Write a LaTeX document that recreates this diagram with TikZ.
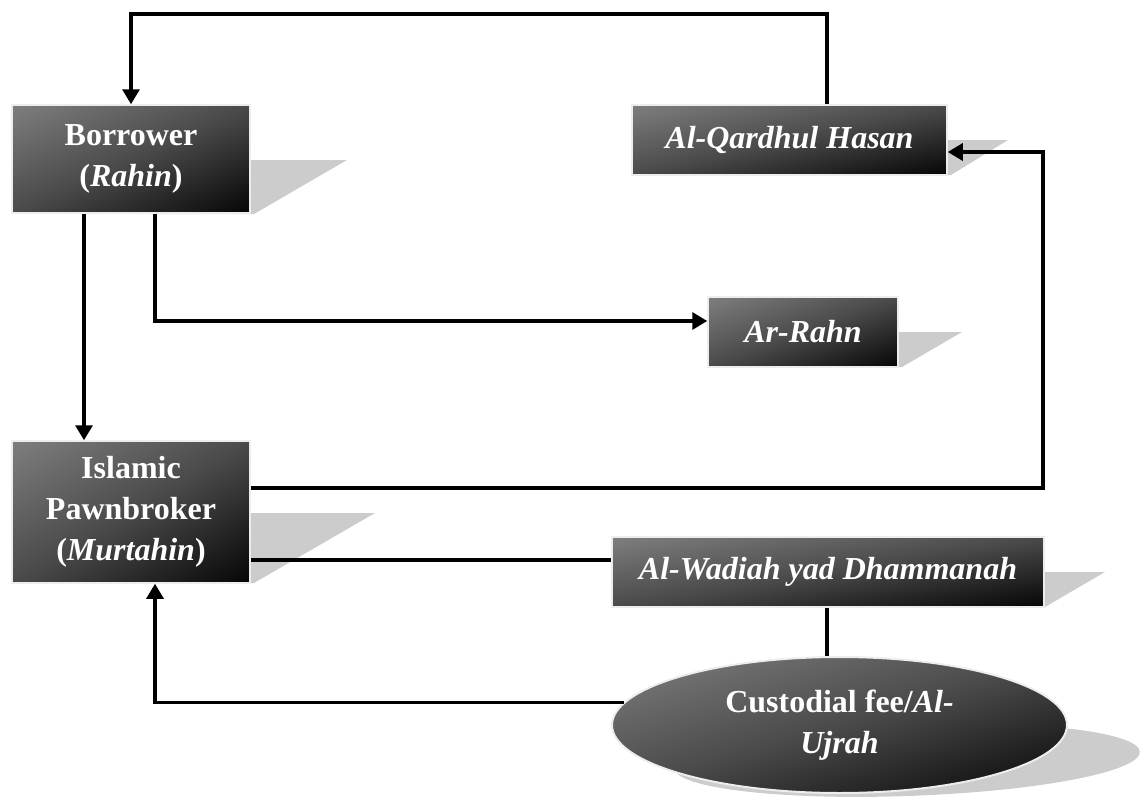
\documentclass[tikz,border=0pt]{standalone}
\usepackage{fontspec}
\setmainfont{Liberation Serif}
\usetikzlibrary{arrows.meta,shapes.geometric}
\definecolor{gradlight}{HTML}{7E7E7E}
\definecolor{gradmid}{HTML}{4A4A4A}
\definecolor{graddark}{HTML}{060606}
\pgfdeclareverticalshading{boxgrad}{100bp}{color(0bp)=(graddark); color(14.6bp)=(graddark); color(50bp)=(gradmid); color(85.4bp)=(gradlight); color(100bp)=(gradlight)}
\newcommand\gradrect[4]{\shade[shading=boxgrad, shading angle=45, transform canvas={shift={(#1,#2)}, xscale=#3/100, yscale=#4/100}] (-50,-50) rectangle (50,50);}
\newcommand\gradoval[4]{\shade[shading=boxgrad, shading angle=45, transform canvas={shift={(#1,#2)}, xscale=#3/100, yscale=#4/100}] (0,0) circle [radius=50];}
\tikzset{
  pbox/.style={rectangle, draw=black!7, line width=1.5pt, text=white,
    font=\fontsize{32}{41}\selectfont\bfseries, align=center, inner sep=0pt},
  pell/.style={ellipse, draw=black!7, line width=2pt, text=white,
    font=\fontsize{32}{41}\selectfont\bfseries, align=center, inner sep=0pt},
  shade/.style={fill=black!20, draw=none},
  conn/.style={line width=3.2pt, draw=black},
  arr/.style={conn, -{Triangle[length=15pt,width=17pt]}}
}
\begin{document}
\begin{tikzpicture}[x=1pt,y=-1pt]
\useasboundingbox (0,0) rectangle (1144,798);
% shadows
\fill[shade] (150,160) -- (347,160) -- (254,214) -- (150,214) -- cycle;
\fill[shade] (800,140) -- (1008,140) -- (951,175) -- (800,175) -- cycle;
\fill[shade] (800,332) -- (962,332) -- (902,367) -- (800,367) -- cycle;
\fill[shade] (150,513) -- (375,513) -- (254,583) -- (150,583) -- cycle;
\fill[shade] (900,572) -- (1105,572) -- (1045,607) -- (900,607) -- cycle;
\fill[shade, rotate around={2:(907,760)}] (907,760) ellipse [x radius=233, y radius=36];
% gradient fills
\gradrect{131}{159}{238}{108}
\gradrect{789.5}{140}{315}{70}
\gradrect{803}{332}{190}{70}
\gradrect{131}{512}{238}{142}
\gradrect{828}{572}{432}{70}
\gradoval{839.5}{725}{455}{136}
% nodes
\node[pbox, minimum width=238pt, minimum height=108pt] (bor) at (131,159) {Borrower\\(\textit{Rahin})};
\node[pbox, minimum width=315pt, minimum height=70pt] (qh) at (789.5,140) {\textit{Al-Qardhul Hasan}};
\node[pbox, minimum width=190pt, minimum height=70pt] (ar) at (803,332) {\textit{Ar-Rahn}};
\node[pbox, minimum width=238pt, minimum height=142pt] (isl) at (131,512) {Islamic\\Pawnbroker\\(\textit{Murtahin})};
\node[pbox, minimum width=432pt, minimum height=70pt] (wad) at (828,572) {\textit{Al-Wadiah yad Dhammanah}};
\node[pell, minimum width=455pt, minimum height=136pt] (ell) at (839.5,725) {Custodial fee/\textit{Al-}\\\textit{Ujrah}};
% helper coordinates
\coordinate (c1) at (827,14);
\coordinate (c2) at (131,14);
\coordinate (c4) at (1043,152);
% connectors
\draw[arr] ([xshift=37.5pt]qh.north) -- (c1) -- (c2) -- (bor.north);
\draw[arr] ([xshift=-47pt]bor.south) -- ([xshift=-47pt]isl.north);
\draw[arr] ([xshift=24pt]bor.south) |- ([yshift=11pt]ar.west);
\draw[arr] ([yshift=24pt]isl.east) -| (c4) -- ([yshift=-12pt]qh.east);
\draw[conn] ([yshift=-48pt]isl.east) -- ([yshift=12pt]wad.west);
\draw[conn] ([xshift=-1pt]wad.south) -- ([xshift=-1pt]wad.south |- ell.north);
\draw[arr] (ell.174.5) -| ([xshift=24pt]isl.south);
\end{tikzpicture}
\end{document}
